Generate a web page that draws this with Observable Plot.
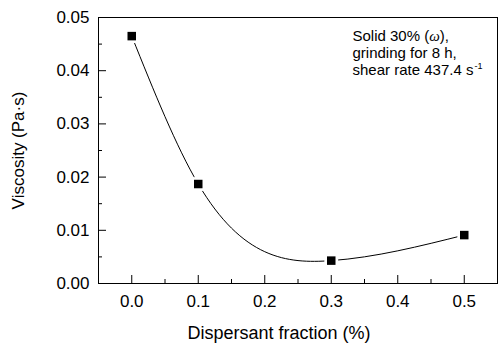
<!DOCTYPE html>
<html>
<head>
<meta charset="utf-8">
<script src="https://cdn.jsdelivr.net/npm/d3@7"></script>
<script src="https://cdn.jsdelivr.net/npm/@observablehq/plot@0.6"></script>
<style>
  html, body { margin: 0; padding: 0; background: #fff; }
  svg { display: block; }
</style>
</head>
<body>
<div id="chart"></div>
<script>
// Data
const fraction = [0.0, 0.1, 0.3, 0.5];           // Dispersant fraction (%)
const viscosity = [0.0465, 0.0187, 0.0043, 0.0091]; // Viscosity (Pa·s)
const xTicks = [0.0, 0.1, 0.2, 0.3, 0.4, 0.5];
const xMinorTicks = [0.05, 0.15, 0.25, 0.35, 0.45];
const yTicks = [0.00, 0.01, 0.02, 0.03, 0.04, 0.05];
const yMinorTicks = [0.005, 0.015, 0.025, 0.035, 0.045];
const xTitle = "Dispersant fraction (%)";
const yTitle = "Viscosity (Pa·s)";
const noteLines = ["Solid 30% (ω),", "grinding for 8 h,", "shear rate 437.4 s"];

const data = fraction.map((f, i) => ({fraction: f, viscosity: viscosity[i]}));

const W = 500, H = 343;
const mTop = 17, mRight = 3, mBottom = 60, mLeft = 98;
const plotW = W - mLeft - mRight, plotH = H - mTop - mBottom;
const font = "Liberation Sans, Arial, sans-serif";

// Natural cubic spline y(x) (function of x, like Origin's spline connector)
function curveNaturalX(context) {
  let xs, ys;
  return {
    areaStart() {}, areaEnd() {},
    lineStart() { xs = []; ys = []; },
    point(x, y) { xs.push(+x); ys.push(+y); },
    lineEnd() {
      const n = xs.length;
      if (!n) return;
      context.moveTo(xs[0], ys[0]);
      if (n === 2) { context.lineTo(xs[1], ys[1]); return; }
      const h = [];
      for (let i = 0; i < n - 1; i++) h.push(xs[i + 1] - xs[i]);
      const M = new Array(n).fill(0);
      const a = [], b = [], c = [], d = [];
      for (let i = 1; i < n - 1; i++) {
        a.push(h[i - 1]);
        b.push(2 * (h[i - 1] + h[i]));
        c.push(h[i]);
        d.push(6 * ((ys[i + 1] - ys[i]) / h[i] - (ys[i] - ys[i - 1]) / h[i - 1]));
      }
      const m = b.length;
      for (let i = 1; i < m; i++) {
        const w = a[i] / b[i - 1];
        b[i] -= w * c[i - 1];
        d[i] -= w * d[i - 1];
      }
      const sol = new Array(m);
      sol[m - 1] = d[m - 1] / b[m - 1];
      for (let i = m - 2; i >= 0; i--) sol[i] = (d[i] - c[i] * sol[i + 1]) / b[i];
      for (let i = 0; i < m; i++) M[i + 1] = sol[i];
      for (let i = 0; i < n - 1; i++) {
        const hi = h[i], dy = (ys[i + 1] - ys[i]) / hi;
        const s0 = dy - hi * (2 * M[i] + M[i + 1]) / 6;
        const s1 = dy + hi * (M[i] + 2 * M[i + 1]) / 6;
        context.bezierCurveTo(xs[i] + hi / 3, ys[i] + s0 * hi / 3,
                              xs[i + 1] - hi / 3, ys[i + 1] - s1 * hi / 3,
                              xs[i + 1], ys[i + 1]);
      }
    }
  };
}

const chart = Plot.plot({
  width: W,
  height: H,
  marginTop: mTop,
  marginRight: mRight,
  marginBottom: mBottom,
  marginLeft: mLeft,
  style: {fontFamily: font, color: "black", background: "white"},
  x: {domain: [-0.05, 0.55]},
  y: {domain: [0, 0.05]},
  marks: [
    Plot.axisX({ticks: xTicks, tickSize: 0, tickPadding: 11, tickFormat: d3.format(".1f"), fontSize: 17, label: null}),
    Plot.axisY({ticks: yTicks, tickSize: 0, tickPadding: 9, tickFormat: d3.format(".2f"), fontSize: 17, label: null}),
    // inward tick marks
    Plot.tickX(xTicks, {x: d => d, insetTop: plotH - 8, stroke: "black"}),
    Plot.tickX(xMinorTicks, {x: d => d, insetTop: plotH - 4, stroke: "black"}),
    Plot.tickY(yTicks, {y: d => d, insetRight: plotW - 8, stroke: "black"}),
    Plot.tickY(yMinorTicks, {y: d => d, insetRight: plotW - 4, stroke: "black"}),
    // spline through points
    Plot.line(data, {x: "fraction", y: "viscosity", curve: curveNaturalX, stroke: "black", strokeWidth: 1}),
    // white halo to break the line near markers
    Plot.dot(data, {x: "fraction", y: "viscosity", symbol: "square", r: 7.8, fill: "white", stroke: null}),
    Plot.dot(data, {x: "fraction", y: "viscosity", symbol: "square", r: 4.8, fill: "black", stroke: null}),
    Plot.frame({stroke: "black", strokeWidth: 1}),
    // axis titles
    Plot.text([xTitle], {frameAnchor: "bottom", dx: -19, dy: 55, lineAnchor: "bottom", textAnchor: "middle", fontSize: 18, fill: "black"}),
    Plot.text([yTitle], {frameAnchor: "left", dx: -80, rotate: -90, textAnchor: "middle", lineAnchor: "middle", fontSize: 17, fill: "black"}),
    // annotation
    Plot.text([noteLines.join("\n")], {frameAnchor: "top-left", dx: 254, dy: 12, textAnchor: "start", lineAnchor: "top", lineHeight: 1.11, fontSize: 15, fill: "black", className: "note"})
  ]
});

// Rich formatting of the annotation: italic omega, superscript -1
const note = chart.querySelector(".note text");
if (note) {
  const spans = note.querySelectorAll("tspan");
  if (spans.length === 3) {
    spans[0].textContent = "Solid 30% (";
    const om = document.createElementNS("http://www.w3.org/2000/svg", "tspan");
    om.setAttribute("font-style", "italic");
    om.setAttribute("font-family", "Liberation Serif, serif");
    om.textContent = "ω";
    spans[0].appendChild(om);
    spans[0].appendChild(document.createTextNode("),"));
    const sup = document.createElementNS("http://www.w3.org/2000/svg", "tspan");
    sup.setAttribute("font-size", "9");
    sup.setAttribute("dy", "-6");
    sup.setAttribute("dx", "1");
    sup.textContent = "-1";
    spans[2].appendChild(sup);
  }
}
document.getElementById("chart").appendChild(chart);
</script>
</body>
</html>
